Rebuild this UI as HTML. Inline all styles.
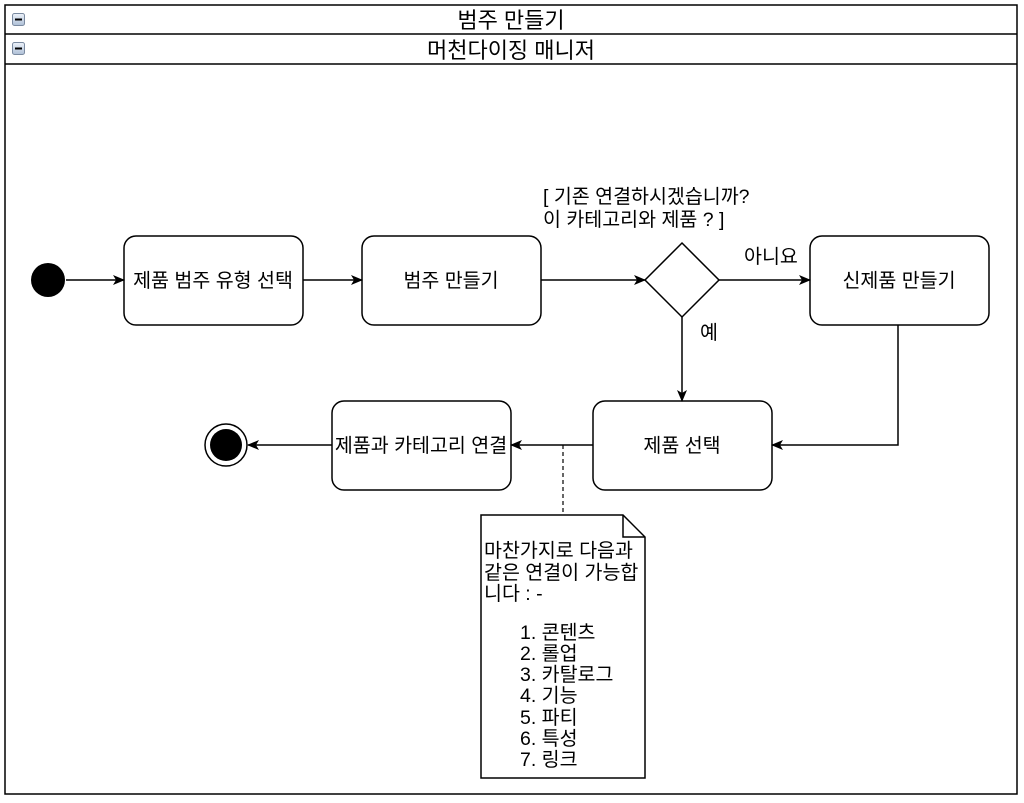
<!DOCTYPE html>
<html><head><meta charset="utf-8"><style>
html,body{margin:0;padding:0;background:#fff;}
svg text{font-family:"Liberation Sans","Noto Sans CJK KR",sans-serif;fill:#000;}
</style></head><body>
<svg width="1024" height="798" viewBox="0 0 1024 798" xmlns="http://www.w3.org/2000/svg">
<defs><marker id="a" markerWidth="12" markerHeight="10" refX="11" refY="5" orient="auto" markerUnits="userSpaceOnUse"><path d="M0,0 L12,5 L0,10 L3,5 z" fill="#000"/></marker>
<linearGradient id="g" x1="0" y1="0" x2="0" y2="1"><stop offset="0" stop-color="#eef3fa"/><stop offset="1" stop-color="#aebfd6"/></linearGradient></defs>
<rect x="5" y="5" width="1012" height="789" fill="#fff" stroke="#000" stroke-width="1.5"/>
<line x1="5" y1="34" x2="1017" y2="34" stroke="#000" stroke-width="1.5"/>
<line x1="5" y1="64" x2="1017" y2="64" stroke="#000" stroke-width="1.5"/>
<rect x="12.5" y="13.5" width="12" height="12" rx="2" fill="url(#g)" stroke="#7a8aa0"/><line x1="15" y1="19.5" x2="22" y2="19.5" stroke="#000" stroke-width="2"/>
<rect x="12.5" y="42.5" width="12" height="12" rx="2" fill="url(#g)" stroke="#7a8aa0"/><line x1="15" y1="48.5" x2="22" y2="48.5" stroke="#000" stroke-width="2"/>
<text x="511" y="28" font-size="22" text-anchor="middle">범주 만들기</text>
<text x="511" y="58" font-size="22" text-anchor="middle">머천다이징 매니저</text>
<g fill="none" stroke="#000" stroke-width="1.5">
<rect x="124" y="236" width="179" height="89" rx="12"/>
<rect x="362" y="236" width="179" height="89" rx="12"/>
<rect x="810" y="236" width="179" height="89" rx="12"/>
<rect x="593" y="401" width="179" height="89" rx="12"/>
<rect x="332" y="401" width="179" height="89" rx="12"/>
<path d="M682,243 L719,280 L682,317 L645,280 Z"/>
<circle cx="226" cy="445" r="21"/>
<line x1="66" y1="280" x2="124" y2="280" marker-end="url(#a)"/>
<line x1="303" y1="280" x2="362" y2="280" marker-end="url(#a)"/>
<line x1="541" y1="280" x2="645" y2="280" marker-end="url(#a)"/>
<line x1="719" y1="280" x2="810" y2="280" marker-end="url(#a)"/>
<line x1="682" y1="317" x2="682" y2="401" marker-end="url(#a)"/>
<polyline points="898,325 898,445 772,445" marker-end="url(#a)"/>
<line x1="593" y1="445" x2="511" y2="445" marker-end="url(#a)"/>
<line x1="332" y1="445" x2="248" y2="445" marker-end="url(#a)"/>
<line x1="563" y1="445" x2="563" y2="515" stroke-dasharray="4,3" stroke-width="1.2"/>
<path d="M481,515 L623,515 L645,537 L645,778 L481,778 Z" fill="#fff"/>
<path d="M623,515 L623,537 L645,537"/>
</g>
<circle cx="48" cy="280" r="17" fill="#000"/>
<circle cx="226" cy="445" r="16" fill="#000"/>
<g font-size="19.5" text-anchor="middle">
<text x="213" y="287">제품 범주 유형 선택</text>
<text x="451" y="287">범주 만들기</text>
<text x="899" y="287">신제품 만들기</text>
<text x="682" y="452">제품 선택</text>
<text x="421" y="452">제품과 카테고리 연결</text>
</g>
<g font-size="19.5">
<text x="543" y="203">[ 기존 연결하시겠습니까?</text>
<text x="543" y="226">이 카테고리와 제품 ? ]</text>
<text x="744" y="263">아니요</text>
<text x="700" y="339">예</text>
</g>
<g font-size="19.5">
<text x="484" y="557">마찬가지로 다음과</text>
<text x="484" y="579">같은 연결이 가능합</text>
<text x="484" y="600">니다 : -</text>
<text x="520" y="639">1. 콘텐츠</text>
<text x="520" y="660">2. 롤업</text>
<text x="520" y="681">3. 카탈로그</text>
<text x="520" y="702">4. 기능</text>
<text x="520" y="724">5. 파티</text>
<text x="520" y="745">6. 특성</text>
<text x="520" y="766">7. 링크</text>
</g>
</svg>
</body></html>
